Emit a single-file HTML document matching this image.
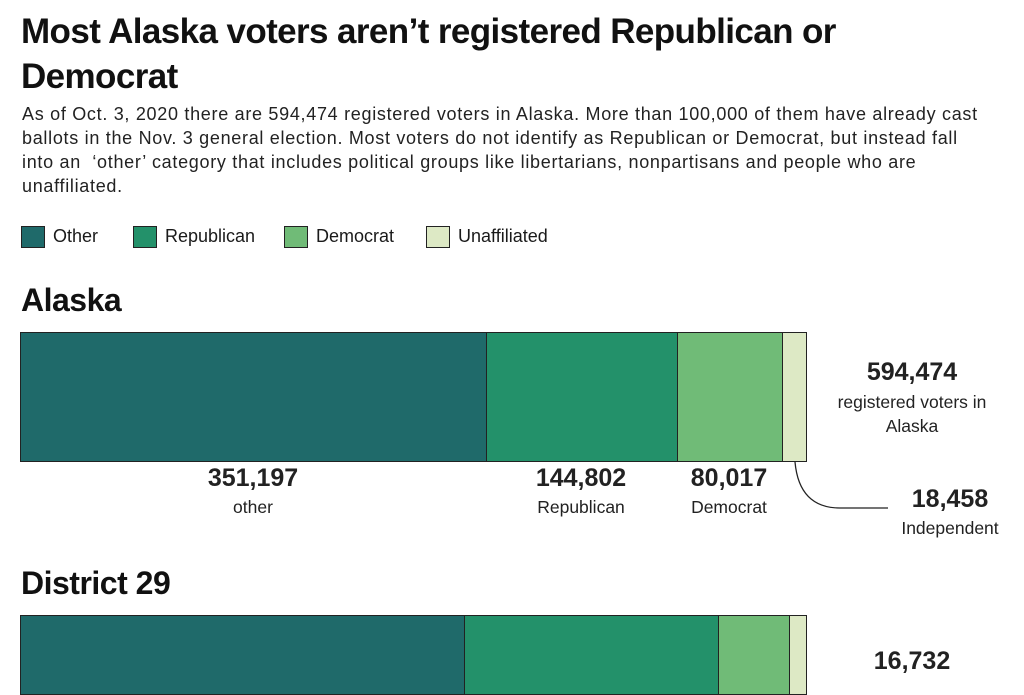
<!DOCTYPE html>
<html><head><meta charset="utf-8"><style>
body{margin:0;width:1024px;height:682px;overflow:hidden;background:#fff;font-family:"Liberation Sans",sans-serif;color:#1a1a1a;position:relative}
.a{position:absolute;white-space:nowrap}
h1{position:absolute;left:21px;top:9px;margin:0;font-size:35px;line-height:45px;font-weight:bold;letter-spacing:-0.6px;color:#111}
.p{position:absolute;left:22px;top:102px;font-size:18px;letter-spacing:0.7px;line-height:24px;width:1000px;color:#222}
.lg{position:absolute;top:226px;font-size:18px}
.sw{display:inline-block;width:24px;height:22px;border:1px solid #222;vertical-align:middle;margin-right:8px;box-sizing:border-box}
h2{position:absolute;margin:0;font-size:32px;font-weight:bold;left:21px;letter-spacing:-0.5px;color:#111}
.bar{position:absolute;border:1.5px solid #222;box-sizing:border-box;display:flex}
.bar div{height:100%;border-right:1.5px solid #222;box-sizing:border-box}
.bar div:last-child{border-right:none}
.n{font-size:25px;font-weight:bold;text-align:center;color:#222}
.l{font-size:17.5px;text-align:center;color:#222}
</style></head><body>
<h1>Most Alaska voters aren’t registered Republican or<br>Democrat</h1>
<div class="p">As of Oct. 3, 2020 there are 594,474 registered voters in Alaska. More than 100,000 of them have already cast<br>ballots in the Nov. 3 general election. Most voters do not identify as Republican or Democrat, but instead fall<br>into an &nbsp;‘other’ category that includes political groups like libertarians, nonpartisans and people who are<br>unaffiliated.</div>
<div class="lg" style="left:21px"><span class="sw" style="background:#1f6a6a"></span>Other</div>
<div class="lg" style="left:133px"><span class="sw" style="background:#23916a"></span>Republican</div>
<div class="lg" style="left:284px"><span class="sw" style="background:#70bb77"></span>Democrat</div>
<div class="lg" style="left:426px"><span class="sw" style="background:#dde9c5"></span>Unaffiliated</div>
<h2 style="top:282px">Alaska</h2>
<div class="bar" style="left:20px;top:332px;width:787px;height:130px">
<div style="width:466px;background:#1f6a6a"></div><div style="width:191px;background:#23916a"></div><div style="width:105px;background:#70bb77"></div><div style="flex:1;background:#dde9c5"></div></div>
<div class="a n" style="left:153px;top:464px;width:200px">351,197</div>
<div class="a l" style="left:153px;top:497px;width:200px">other</div>
<div class="a n" style="left:481px;top:464px;width:200px">144,802</div>
<div class="a l" style="left:481px;top:497px;width:200px">Republican</div>
<div class="a n" style="left:629px;top:464px;width:200px">80,017</div>
<div class="a l" style="left:629px;top:497px;width:200px">Democrat</div>
<div class="a n" style="left:797px;top:358px;width:230px">594,474</div>
<div class="a l" style="left:797px;top:390px;width:230px;line-height:24px;white-space:normal">registered voters in<br>Alaska</div>
<svg class="a" style="left:0;top:0" width="1024" height="682"><path d="M795 462 C798 495 815 508 840 508 L888 508" fill="none" stroke="#222" stroke-width="1.3"/></svg>
<div class="a n" style="left:895px;top:485px;width:110px">18,458</div>
<div class="a l" style="left:890px;top:518px;width:120px">Independent</div>
<h2 style="top:565px">District 29</h2>
<div class="bar" style="left:20px;top:615px;width:787px;height:80px">
<div style="width:444px;background:#1f6a6a"></div><div style="width:254px;background:#23916a"></div><div style="width:71px;background:#70bb77"></div><div style="flex:1;background:#dde9c5"></div></div>
<div class="a n" style="left:797px;top:647px;width:230px">16,732</div>
</body></html>
